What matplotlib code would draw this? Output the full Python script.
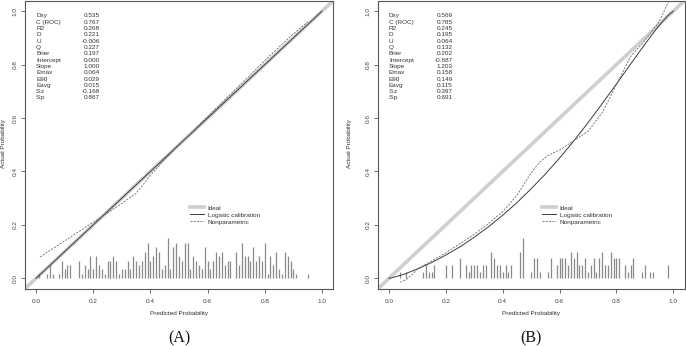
import numpy as np
import matplotlib
matplotlib.use("Agg")
import matplotlib.pyplot as plt
from matplotlib.lines import Line2D

plt.rcParams['font.family'] = ['Liberation Sans', 'DejaVu Sans']

# ---------------- data ----------------
stat_names = ["Dxy", "C (ROC)", "R2", "D", "U", "Q", "Brier", "Intercept",
              "Slope", "Emax", "E90", "Eavg", "S:z", "S:p"]
stats_A = ["0.535", "0.767", "0.268", "0.221", "-0.006", "0.227", "0.197", "0.000",
           "1.000", "0.064", "0.029", "0.015", "-0.168", "0.867"]
stats_B = ["0.569", "0.785", "0.245", "0.195", "0.064", "0.132", "0.202", "-0.687",
           "1.203", "0.158", "0.149", "0.115", "0.397", "0.691"]

# Panel A curves
logit_A_x = [0.0, 1.0]
logit_A_y = [0.0, 1.0]
np_A_x = [0.014, 0.05, 0.10, 0.15, 0.20, 0.25, 0.30, 0.35, 0.40, 0.45, 0.50, 0.55,
          0.60, 0.65, 0.70, 0.75, 0.80, 0.85, 0.90, 0.95]
np_A_y = [0.080, 0.105, 0.140, 0.175, 0.210, 0.245, 0.280, 0.318, 0.385, 0.445, 0.500,
          0.552, 0.605, 0.658, 0.710, 0.762, 0.815, 0.866, 0.915, 0.960]

# Panel B curves
logit_B_x = [0.0, 0.01, 0.05, 0.10, 0.15, 0.20, 0.25, 0.30, 0.35, 0.40, 0.45, 0.50,
             0.55, 0.60, 0.65, 0.70, 0.75, 0.80, 0.85, 0.90, 0.95, 0.98, 1.0]
logit_B_y = [0.0, 0.002, 0.014, 0.035, 0.059, 0.087, 0.118, 0.154, 0.193, 0.236, 0.283,
             0.335, 0.390, 0.450, 0.514, 0.582, 0.654, 0.727, 0.802, 0.876, 0.946, 0.982, 1.0]
np_B_x = [0.04, 0.06, 0.08, 0.10, 0.15, 0.20, 0.25, 0.30, 0.35, 0.40, 0.45, 0.50, 0.53,
          0.56, 0.60, 0.65, 0.70, 0.75, 0.80, 0.85, 0.90, 0.95, 0.985]
np_B_y = [-0.015, -0.005, 0.012, 0.035, 0.065, 0.095, 0.130, 0.165, 0.205, 0.250, 0.310,
          0.395, 0.435, 0.460, 0.480, 0.515, 0.550, 0.620, 0.725, 0.830, 0.890, 0.960, 1.040]

# Spike histograms (predicted probability bins, counts)
spk_A_x = [0.01, 0.04, 0.05, 0.06, 0.08, 0.09, 0.10, 0.11, 0.12, 0.15, 0.16, 0.17, 0.18,
           0.19, 0.20, 0.21, 0.22, 0.23, 0.24, 0.25, 0.26, 0.27, 0.28, 0.29, 0.30, 0.31,
           0.32, 0.33, 0.34, 0.35, 0.36, 0.37, 0.38, 0.39, 0.40, 0.41, 0.42, 0.43, 0.44,
           0.45, 0.46, 0.47, 0.48, 0.49, 0.50, 0.51, 0.52, 0.53, 0.54, 0.55, 0.56, 0.57,
           0.58, 0.59, 0.60, 0.61, 0.62, 0.63, 0.64, 0.65, 0.66, 0.67, 0.68, 0.70, 0.71,
           0.72, 0.73, 0.74, 0.75, 0.76, 0.77, 0.78, 0.79, 0.80, 0.81, 0.82, 0.83, 0.84,
           0.85, 0.86, 0.87, 0.88, 0.89, 0.90, 0.91, 0.95]
spk_A_n = [1, 1, 3, 1, 1, 4, 2, 3, 3, 4, 1, 3, 2,
           5, 2, 5, 3, 2, 1, 4, 4, 5, 4, 1, 2, 2,
           4, 2, 5, 4, 3, 4, 6, 8, 4, 5, 7, 6, 2,
           3, 9, 2, 7, 8, 5, 4, 8, 8, 2, 5, 4, 3,
           2, 7, 4, 2, 4, 6, 5, 6, 3, 4, 4, 6, 3,
           8, 5, 5, 4, 7, 4, 5, 4, 8, 1, 5, 3, 6,
           2, 1, 6, 5, 4, 2, 1, 1]

spk_B_x = [0.04, 0.06, 0.12, 0.13, 0.14, 0.15, 0.16, 0.20, 0.22, 0.25, 0.27, 0.28, 0.29,
           0.30, 0.31, 0.32, 0.33, 0.34, 0.36, 0.37, 0.38, 0.39, 0.40, 0.41, 0.42, 0.43,
           0.46, 0.47, 0.50, 0.51, 0.52, 0.53, 0.56, 0.57, 0.59, 0.60, 0.61, 0.62, 0.63,
           0.64, 0.65, 0.66, 0.67, 0.68, 0.69, 0.70, 0.71, 0.72, 0.73, 0.74, 0.75, 0.76,
           0.77, 0.78, 0.79, 0.80, 0.81, 0.83, 0.84, 0.85, 0.86, 0.89, 0.90, 0.92, 0.93, 0.98]
spk_B_n = [1, 1, 1, 2, 1, 1, 2, 2, 2, 3, 2, 1, 2,
           2, 2, 1, 2, 2, 4, 3, 2, 2, 1, 2, 1, 2,
           4, 6, 1, 3, 3, 1, 1, 3, 2, 3, 3, 3, 2,
           4, 3, 4, 2, 2, 3, 1, 2, 3, 1, 3, 4, 2,
           2, 4, 3, 3, 3, 2, 1, 2, 3, 1, 2, 1, 1, 2]

ticks = [0.0, 0.2, 0.4, 0.6, 0.8, 1.0]
tick_labels = ["0.0", "0.2", "0.4", "0.6", "0.8", "1.0"]

# ---------------- figure ----------------
W, H = 686, 346
fig = plt.figure(figsize=(W / 100, H / 100), dpi=100)

FS = 4.6
frame_col = "#555555"

def make_panel(rect, stats, lx, ly, nx, ny, sx, sn, letter, ylab_x, xlab_c):
    ax = fig.add_axes(rect)
    ax.set_xlim(-0.04, 1.04)
    ax.set_ylim(-0.04, 1.04)
    # ideal
    ax.axline((0, 0), slope=1, color="#cfcfcf", lw=2.6, zorder=1, solid_capstyle="butt")
    # spikes
    sn = np.asarray(sn, float)
    ax.vlines(sx, 0, sn / sn.max() * 0.15, color="#8a8a8a", lw=0.9, zorder=2)
    # logistic
    ax.plot(lx, ly, color="#3c3c3c", lw=0.7, zorder=3)
    # nonparametric
    ax.plot(nx, ny, color="#6a6a6a", lw=0.6, ls=(0, (2.5, 1.5)), zorder=3)

    # stats text
    for i, (nm, val) in enumerate(zip(stat_names, stats)):
        yy = 0.982 - i * 0.0236
        ax.text(0.0, yy, nm, fontsize=FS, color="#333333", ha="left", va="center")
        ax.text(0.224, yy, val, fontsize=FS, color="#333333", ha="right", va="center")

    handles = [Line2D([], [], color="#cfcfcf", lw=2.6),
               Line2D([], [], color="#3c3c3c", lw=0.7),
               Line2D([], [], color="#6a6a6a", lw=0.6, ls=(0, (2.5, 1.5)))]
    leg = ax.legend(handles, ["Ideal", "Logistic calibration", "Nonparametric"],
                    loc="upper left", bbox_to_anchor=(0.535, 0.291), frameon=False,
                    fontsize=FS, handlelength=2.2, handletextpad=0.6,
                    labelspacing=0.25, borderpad=0, borderaxespad=0)
    for t in leg.get_texts():
        t.set_color("#333333")

    ax.set_xticks(ticks)
    ax.set_xticklabels(tick_labels)
    ax.set_yticks(ticks)
    ax.set_yticklabels(tick_labels, rotation=90, va="center")
    ax.tick_params(axis="both", labelsize=FS, length=3, width=0.6, color=frame_col,
                   labelcolor="#444444", pad=2)
    ax.tick_params(axis="x", pad=4)
    for s in ax.spines.values():
        s.set_color(frame_col)
        s.set_linewidth(0.8)

    fig.text(xlab_c / W, 1 - 313 / H, "Predicted Probability", fontsize=FS,
             color="#333333", ha="center", va="center")
    fig.text(ylab_x / W, 1 - 144 / H, "Actual Probability", fontsize=FS,
             color="#333333", ha="center", va="center", rotation=90)
    fig.text(xlab_c / W, 1 - 338 / H, letter, fontsize=11.5, ha="center", va="center",
             family=["Liberation Serif", "DejaVu Serif"], color="#111111")
    return ax

make_panel([24.6 / W, 1 - 289 / H, 308.8 / W, 288.5 / H], stats_A,
           logit_A_x, logit_A_y, np_A_x, np_A_y, spk_A_x, spk_A_n, "(A)", 4, 179)
make_panel([377.6 / W, 1 - 289 / H, 307 / W, 288.5 / H], stats_B,
           logit_B_x, logit_B_y, np_B_x, np_B_y, spk_B_x, spk_B_n, "(B)", 349, 531)

fig.savefig("out.png", dpi=100)
